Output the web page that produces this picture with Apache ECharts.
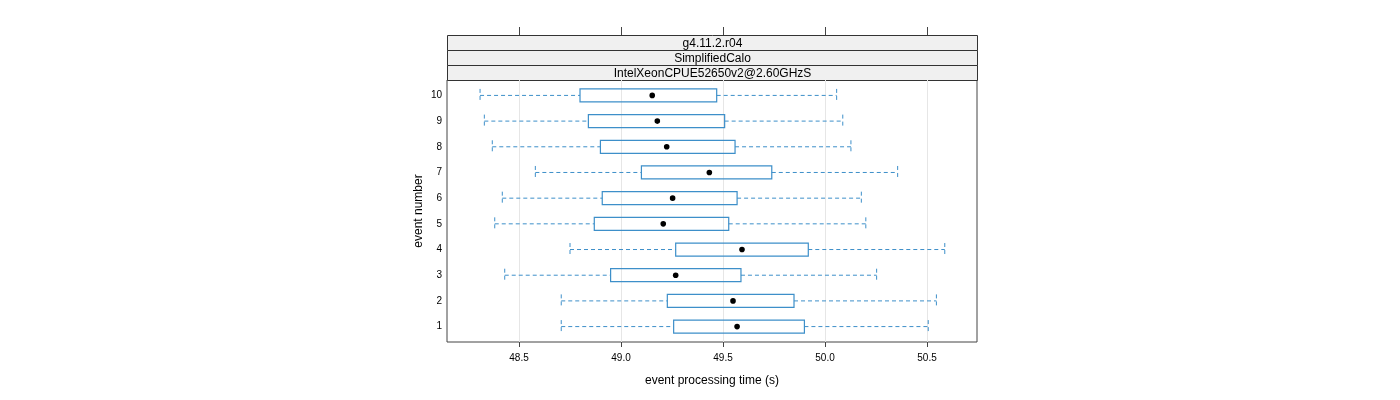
<!DOCTYPE html>
<html>
<head>
<meta charset="utf-8">
<script src="https://cdn.jsdelivr.net/npm/echarts@6/dist/echarts.min.js"></script>
<style>
  html, body { margin: 0; padding: 0; background: #fff; }
  #chart { width: 1400px; height: 400px; }
</style>
</head>
<body>
<div id="chart"></div>
<script>
// event number per row
const events = [1, 2, 3, 4, 5, 6, 7, 8, 9, 10]
// box statistics per event (seconds)
const lowWhisker  = [48.707, 48.707, 48.430, 48.750, 48.381, 48.418, 48.580, 48.369, 48.330, 48.309]
const lowerQuart  = [49.258, 49.227, 48.949, 49.268, 48.869, 48.908, 49.100, 48.899, 48.840, 48.799]
const medians     = [49.569, 49.549, 49.268, 49.593, 49.207, 49.253, 49.433, 49.224, 49.178, 49.153]
const upperQuart  = [49.899, 49.848, 49.588, 49.918, 49.528, 49.569, 49.739, 49.559, 49.508, 49.469]
const highWhisker = [50.506, 50.546, 50.253, 50.587, 50.200, 50.178, 50.356, 50.127, 50.087, 50.057]

const xTicks = [48.5, 49.0, 49.5, 50.0, 50.5]
const stripLabels = ["g4.11.2.r04", "SimplifiedCalo", "IntelXeonCPUE52650v2@2.60GHzS"]

const BLUE = "#3d8fc9"
const FONT = "Liberation Sans, Arial, sans-serif"

const chart = echarts.init(document.getElementById("chart"))

const boxData = events.map((e, i) =>
    [e, lowWhisker[i], lowerQuart[i], medians[i], upperQuart[i], highWhisker[i]])

function renderBox(params, api) {
    const y = api.value(0)
    const [xLo] = api.coord([api.value(1), y])
    const [xQ1, yc] = api.coord([api.value(2), y])
    const [xMed] = api.coord([api.value(3), y])
    const [xQ3] = api.coord([api.value(4), y])
    const [xHi] = api.coord([api.value(5), y])
    const h = 13
    const dashed = {stroke: BLUE, lineWidth: 1, lineDash: [4, 3]}
    return {
        type: "group",
        children: [
            {type: "line", shape: {x1: xLo, y1: yc, x2: xQ1, y2: yc}, style: dashed},
            {type: "line", shape: {x1: xQ3, y1: yc, x2: xHi, y2: yc}, style: dashed},
            {type: "line", shape: {x1: xLo, y1: yc - h / 2, x2: xLo, y2: yc + h / 2}, style: dashed},
            {type: "line", shape: {x1: xHi, y1: yc - h / 2, x2: xHi, y2: yc + h / 2}, style: dashed},
            {type: "rect", shape: {x: xQ1, y: yc - h / 2, width: xQ3 - xQ1, height: h},
                style: {fill: "none", stroke: BLUE, lineWidth: 1.2}},
            {type: "circle", shape: {cx: xMed, cy: yc, r: 2.8}, style: {fill: "#000"}}
        ]
    }
}

const gridLeft = 447, gridRight = 977, gridTop = 80
const stripTop = 35, stripH = 15

const option = {
    animation: false,
    textStyle: {fontFamily: FONT},
    grid: {
        left: gridLeft, right: 1400 - gridRight, top: gridTop, bottom: 58,
        show: true, borderColor: "#444", borderWidth: 1
    },
    xAxis: [{
        type: "value", position: "bottom",
        min: 48.147, max: 50.745,
        axisLine: {show: false},
        axisTick: {show: true, customValues: xTicks, length: 5, lineStyle: {color: "#444"}},
        axisLabel: {customValues: xTicks, fontSize: 10, color: "#000", margin: 11,
            formatter: v => v.toFixed(1)},
        splitLine: {show: false},
        name: "event processing time (s)", nameLocation: "middle", nameGap: 33,
        nameTextStyle: {fontSize: 12, color: "#000"}
    }, {
        type: "value", position: "top", offset: gridTop - stripTop,
        min: 48.147, max: 50.745,
        axisLine: {show: false},
        axisTick: {show: true, customValues: xTicks, length: 8, lineStyle: {color: "#444"}},
        axisLabel: {show: false},
        splitLine: {show: false}
    }],
    yAxis: {
        type: "value", min: 0.4, max: 10.6,
        axisLine: {show: false},
        axisTick: {show: false},
        axisLabel: {customValues: events, fontSize: 10, color: "#000", margin: 5},
        splitLine: {show: false},
        name: "event number", nameLocation: "middle", nameGap: 22, nameRotate: 90,
        nameTextStyle: {fontSize: 12, color: "#000"}
    },
    graphic: stripLabels.map((txt, i) => ({
        type: "group",
        left: gridLeft, top: stripTop + i * stripH,
        children: [
            {type: "rect", shape: {x: 0, y: 0, width: gridRight - gridLeft, height: stripH},
                style: {fill: "#f0f0f0", stroke: "#333", lineWidth: 1}},
            {type: "text", x: (gridRight - gridLeft) / 2, y: stripH / 2 + 0.5,
                style: {text: txt, fill: "#000", fontSize: 12, fontFamily: FONT,
                    align: "center", verticalAlign: "middle"}}
        ]
    })),
    series: [{
        type: "custom",
        xAxisIndex: 0,
        renderItem: renderBox,
        data: boxData,
        encode: {x: [1, 2, 3, 4, 5], y: 0},
        z: 3,
        markLine: {
            silent: true, symbol: "none", label: {show: false},
            lineStyle: {color: "#e6e6e6", width: 1, type: "solid"},
            data: xTicks.map(v => ({xAxis: v})),
            z: 1
        }
    }]
}

chart.setOption(option)
</script>
</body>
</html>
